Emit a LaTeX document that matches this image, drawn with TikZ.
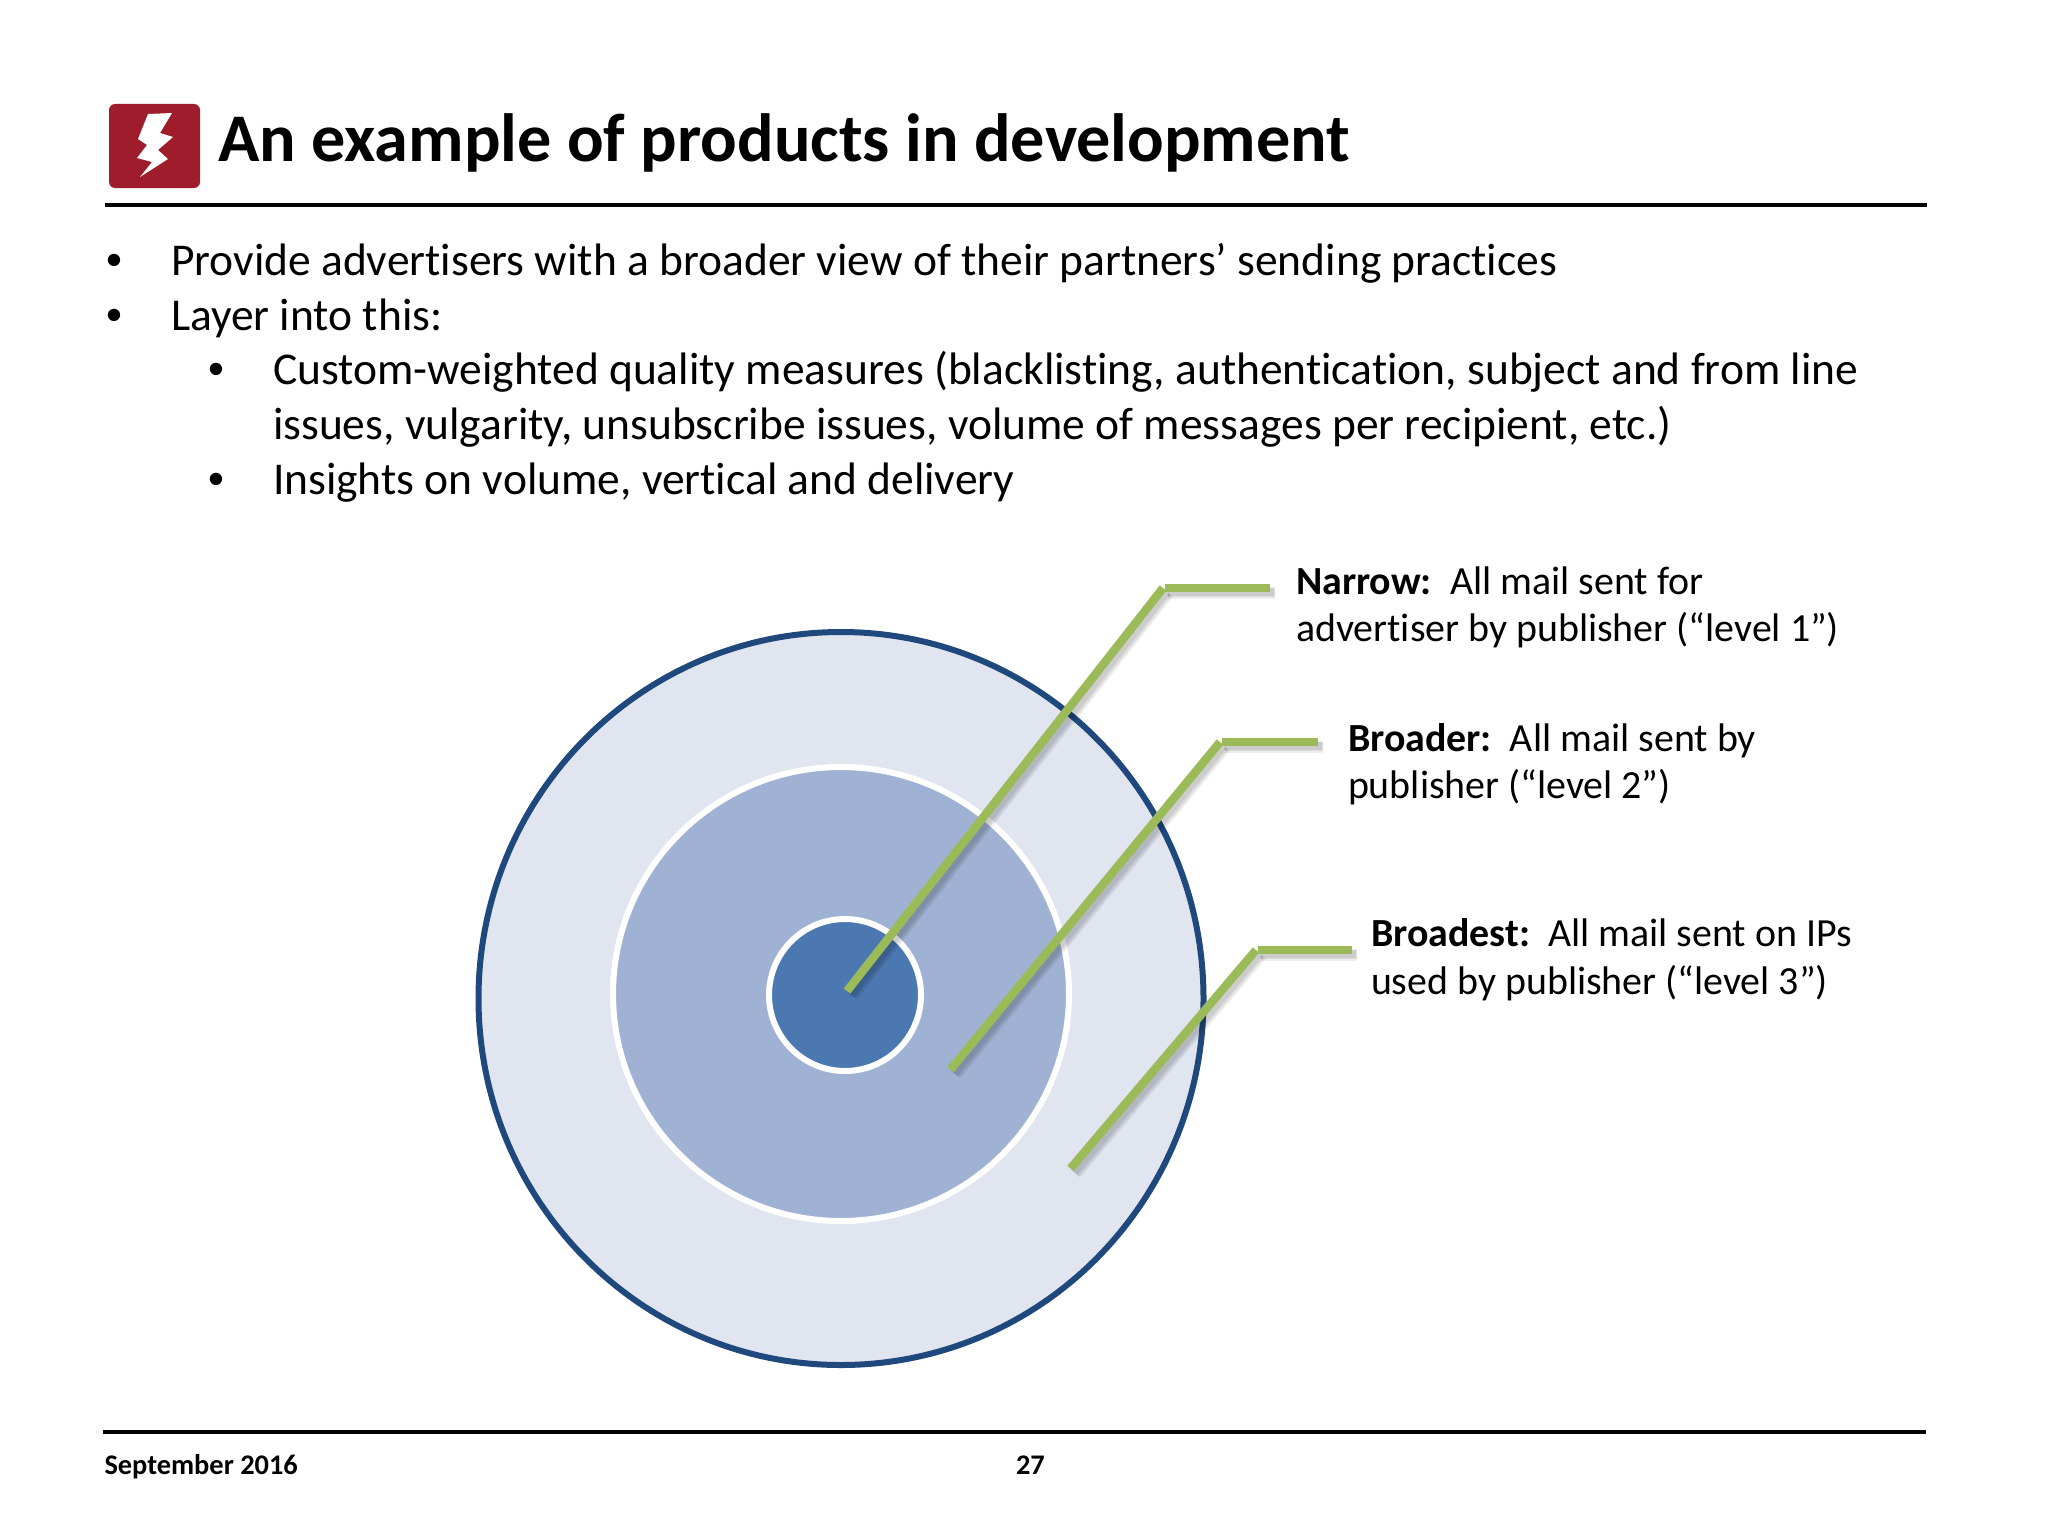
\documentclass[tikz,border=0pt]{standalone}
\usepackage{fontspec}
\setmainfont{Carlito}[Ligatures=CommonOff]
\newfontfamily\bulletfont{Liberation Sans}
\usetikzlibrary{calc}
\definecolor{boltred}{HTML}{9E1C2B}
\definecolor{ringdark}{HTML}{1F497D}
\definecolor{ringlight}{HTML}{E0E5F0}
\definecolor{ringmid}{HTML}{A0B2D3}
\definecolor{ringcore}{HTML}{4B78B1}
\definecolor{leader}{HTML}{9BBB59}
\tikzset{
  txt/.style={anchor=base west,inner sep=0pt,outer sep=0pt,text=black},
  titletxt/.style={txt,font=\fontsize{34.1}{34.1}\selectfont\bfseries},
  bodytxt/.style={txt,font=\fontsize{22.75}{22.75}\selectfont},
  bullettxt/.style={anchor=base,inner sep=0pt,outer sep=0pt,font=\bulletfont\fontsize{22.75}{22.75}\selectfont},
  labeltxt/.style={txt,font=\fontsize{19.95}{19.95}\selectfont},
  foottxt/.style={txt,font=\fontsize{14.2}{14.2}\selectfont\bfseries},
  rulebar/.style={line width=2pt,black},
  leaderline/.style={line width=4.2pt,leader},
}
\newcommand{\leaderpath}[3]{%
  \foreach \d/\w in {5/6,4.5/4.8,4/3.6}{
    \draw[black,opacity=0.07,line width=\w pt] ($(#1)+(\d,\d)$) -- ($(#2)+(\d,\d)$);
    \draw[black,opacity=0.07,line width=\w pt] ($(#2)+(\d,\d)$) -- ($(#3)+(\d,\d)$);
  }
  \draw[leaderline] (#1) -- (#2);
  \draw[leaderline] ($(#2)+(2,0)$) -- (#3);
}
\begin{document}
\begin{tikzpicture}[x=0.5pt,y=-0.5pt]
\useasboundingbox (0,0) rectangle (2048,1536);
% icon
\fill[boltred,rounded corners=3pt] (109,104) rectangle (200,188);
\fill[white] (148,114) -- (172,113) -- (160,133) -- (173,137) -- (158,150) -- (168,159) -- (140,177) -- (152,162) -- (137,158) -- (147,145) -- (138,139) -- cycle;
\node[titletxt] (title) at (218,161) {An example of products in development};
\draw[rulebar] (104.5,205) -- (1927,205);
% body
\node[bullettxt] (b1) at (114,275) {•};
\node[bodytxt] (t1) at (171,275) {Provide advertisers with a broader view of their partners’ sending practices};
\node[bullettxt] (b2) at (114,330) {•};
\node[bodytxt] (t2) at (171,330) {Layer into this:};
\node[bullettxt] (b3) at (216,384) {•};
\node[bodytxt] (t3) at (273,384) {Custom-weighted quality measures (blacklisting, authentication, subject and from line};
\node[bodytxt] (t4) at (273,439) {issues, vulgarity, unsubscribe issues, volume of messages per recipient, etc.)};
\node[bullettxt] (b4) at (216,494) {•};
\node[bodytxt] (t5) at (273,494) {Insights on volume, vertical and delivery};
% target
\draw[ringdark,fill=ringlight,line width=3pt] (841,998.5) ellipse [x radius=362.5,y radius=366.5];
\draw[white,fill=ringmid,line width=3pt] (841,994) ellipse [x radius=228,y radius=227];
\draw[white,fill=ringcore,line width=3pt] (845,995) ellipse [x radius=76,y radius=76];
% leaders
\coordinate (n0) at (847,991); \coordinate (n1) at (1163,588); \coordinate (n2) at (1270,588);
\coordinate (m0) at (950.5,1069.5); \coordinate (m1) at (1220,742); \coordinate (m2) at (1318,742);
\coordinate (k0) at (1070.5,1168.5); \coordinate (k1) at (1256,950); \coordinate (k2) at (1352,950);
\leaderpath{n0}{n1}{n2}
\leaderpath{m0}{m1}{m2}
\leaderpath{k0}{k1}{k2}
% labels
\node[labeltxt] (l1a) at (1296,594.5) {\textbf{Narrow:}\ \ All mail sent for};
\node[labeltxt] (l1b) at (1296,641.5) {advertiser by publisher (“level 1”)};
\node[labeltxt] (l2a) at (1348,751) {\textbf{Broader:}\ \ All mail sent by};
\node[labeltxt] (l2b) at (1348,798) {publisher (“level 2”)};
\node[labeltxt] (l3a) at (1371,946) {\textbf{Broadest:}\ \ All mail sent on IPs};
\node[labeltxt] (l3b) at (1371,994) {used by publisher (“level 3”)};
% footer
\draw[rulebar] (103,1432) -- (1926,1432);
\node[foottxt] (f1) at (104.5,1474.5) {September 2016};
\node[foottxt] (f2) at (1016,1474.5) {27};
\end{tikzpicture}
\end{document}
